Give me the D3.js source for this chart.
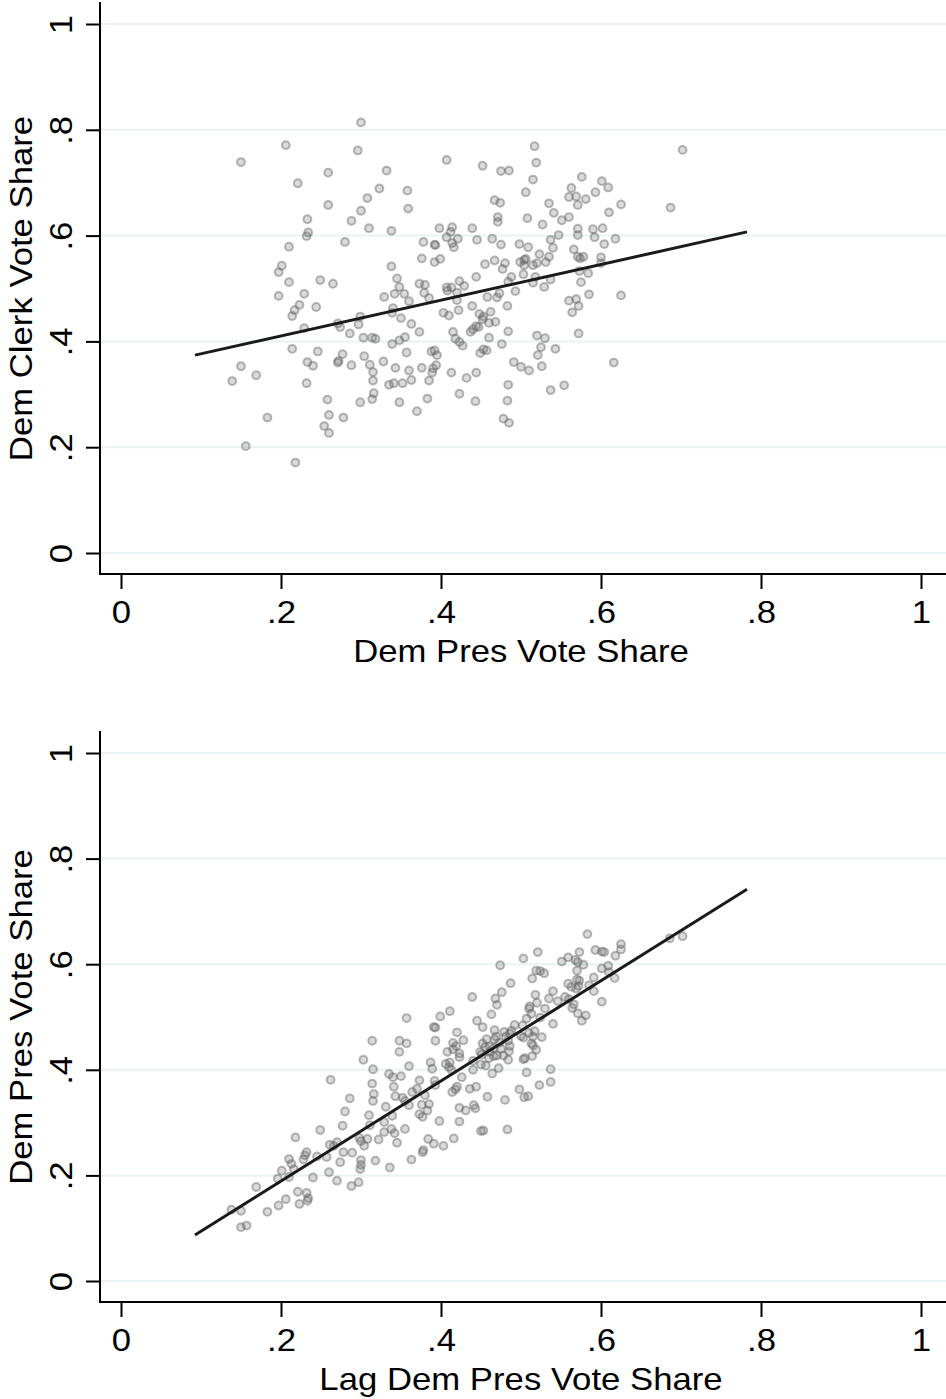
<!DOCTYPE html>
<html>
<head>
<meta charset="utf-8">
<script src="https://cdn.jsdelivr.net/npm/d3@7"></script>
<style>
  body { margin: 0; background: #fff; }
  svg { display: block; font-family: "Liberation Sans", Arial, Helvetica, sans-serif; }
</style>
</head>
<body>
<svg id="chart" width="946" height="1399"></svg>
<script>
// axis ticks (both panels, both axes)
const ticks = [0, 0.2, 0.4, 0.6, 0.8, 1];

// top panel: x = Dem Pres Vote Share, y = Dem Clerk Vote Share
const presVote = [
  .206,.150,.259,.221,.259,.233,.234,.232,.210,.201,.197,.210,.249,.197,.229,.223,.217,.214,.244,.229,
  .214,.246,.233,.240,.150,.169,.139,.232,.258,.260,.183,.254,.260,.156,.218,.300,.296,.332,.407,.452,
  .475,.485,.323,.358,.308,.300,.359,.288,.310,.338,.506,.467,.474,.471,.471,.508,.398,.414,.412,.439,
  .280,.407,.414,.421,.416,.378,.393,.392,.445,.464,.475,.498,.509,.376,.399,.392,.338,.455,.467,.480,
  .477,.504,.506,.504,.499,.265,.345,.348,.373,.380,.423,.429,.444,.488,.484,.503,.407,.413,.517,.519,
  .515,.702,.576,.601,.563,.609,.593,.560,.569,.581,.535,.571,.625,.687,.541,.610,.551,.560,.527,.571,
  .571,.590,.592,.602,.547,.537,.618,.540,.566,.604,.523,.535,.571,.574,.578,.600,.520,.531,.515,.600,
  .573,.584,.518,.537,.575,.529,.515,.329,.342,.354,.360,.379,.385,.408,.420,.420,.458,.470,.473,.493,
  .483,.340,.339,.299,.297,.271,.274,.403,.410,.422,.439,.448,.453,.452,.462,.460,.468,.350,.363,.373,
  .286,.303,.314,.318,.355,.348,.339,.415,.418,.423,.427,.437,.440,.447,.444,.460,.484,.476,.277,.272,
  .271,.288,.304,.311,.315,.328,.357,.343,.360,.376,.388,.392,.395,.394,.390,.389,.413,.432,.444,.449,
  .453,.457,.491,.500,.510,.315,.335,.341,.352,.363,.385,.316,.314,.299,.348,.383,.423,.443,.484,.483,
  .370,.278,.478,.485,.560,.569,.572,.564,.585,.625,.520,.530,.572,.525,.543,.616,.521,.526,.554,.537
];
const clerkVote = [
  .771,.739,.719,.699,.658,.631,.606,.599,.579,.543,.531,.512,.516,.486,.490,.469,.459,.448,.465,.425,
  .386,.381,.361,.354,.353,.336,.325,.321,.290,.261,.256,.240,.227,.202,.171,.814,.761,.723,.743,.732,
  .722,.723,.689,.685,.671,.647,.651,.628,.614,.609,.682,.667,.662,.635,.626,.633,.614,.616,.607,.614,
  .588,.597,.586,.594,.578,.588,.582,.583,.592,.594,.583,.584,.578,.557,.556,.550,.542,.546,.553,.548,
  .537,.554,.556,.544,.550,.509,.519,.503,.509,.507,.514,.505,.522,.522,.513,.527,.502,.502,.769,.738,
  .706,.762,.711,.703,.690,.691,.682,.673,.674,.669,.661,.658,.659,.653,.643,.644,.629,.635,.621,.613,
  .601,.612,.597,.614,.601,.592,.594,.577,.574,.584,.565,.560,.560,.557,.560,.559,.548,.550,.544,.548,
  .533,.529,.522,.517,.512,.503,.511,.484,.490,.490,.476,.492,.482,.496,.492,.478,.484,.483,.491,.495,
  .467,.463,.454,.447,.432,.434,.427,.454,.449,.459,.467,.452,.447,.442,.456,.435,.437,.444,.433,.418,
  .415,.407,.407,.405,.408,.402,.395,.418,.405,.399,.392,.418,.423,.427,.429,.407,.419,.395,.376,.363,
  .360,.355,.372,.356,.342,.362,.379,.350,.345,.350,.381,.383,.374,.355,.349,.341,.341,.331,.341,.378,
  .385,.383,.361,.352,.345,.326,.318,.321,.321,.327,.326,.302,.291,.285,.285,.292,.301,.287,.318,.288,
  .268,.256,.254,.246,.477,.480,.467,.455,.489,.487,.411,.406,.415,.389,.386,.360,.374,.353,.317,.308
];
// fitted line, read at its two ends
const fitTopX = [0.0925, 0.7825];
const fitTopY = [0.374, 0.607];

// bottom panel: x = Lag Dem Pres Vote Share, y = Dem Pres Vote Share
const lagPresVote = [
  .303,.315,.335,.262,.314,.316,.315,.286,.331,.280,.310,.329,.311,.277,.249,.329,.322,.308,.298,.300,
  .304,.218,.261,.270,.266,.278,.289,.232,.230,.228,.245,.257,.210,.213,.216,.201,.274,.300,.300,.299,
  .318,.336,.260,.240,.196,.210,.270,.297,.288,.169,.221,.232,.234,.233,.223,.206,.197,.183,.138,.150,
  .150,.157,.439,.468,.470,.411,.399,.357,.463,.445,.452,.391,.393,.420,.467,.469,.467,.314,.348,.357,
  .348,.393,.415,.419,.415,.428,.408,.423,.423,.452,.457,.455,.449,.461,.466,.460,.387,.406,.410,.413,
  .411,.440,.389,.440,.450,.456,.472,.464,.360,.340,.350,.373,.392,.393,.426,.341,.370,.364,.380,.343,
  .352,.355,.420,.418,.414,.436,.444,.458,.376,.385,.383,.360,.339,.373,.377,.423,.431,.441,.443,.398,
  .423,.338,.342,.355,.345,.384,.391,.403,.416,.450,.378,.583,.686,.702,.625,.625,.618,.593,.601,.604,
  .573,.521,.503,.559,.551,.568,.571,.578,.474,.609,.601,.610,.519,.524,.529,.570,.514,.487,.591,.617,
  .570,.573,.559,.563,.572,.569,.585,.540,.476,.591,.518,.535,.546,.555,.560,.601,.520,.511,.510,.530,
  .564,.566,.513,.571,.581,.576,.507,.524,.492,.502,.540,.479,.488,.486,.510,.517,.515,.500,.503,.526,
  .481,.484,.486,.473,.466,.475,.513,.515,.519,.485,.461,.470,.478,.505,.503,.514,.484,.451,.507,.537,
  .523,.537,.498,.504,.509,.480,.453,.483,.377,.363
];
const presVoteNow = [
  .419,.401,.392,.381,.374,.354,.341,.346,.330,.321,.314,.301,.295,.294,.286,.282,.268,.269,.271,.265,
  .256,.272,.258,.263,.256,.244,.243,.244,.238,.230,.236,.235,.231,.222,.212,.209,.225,.229,.220,.212,
  .228,.215,.206,.196,.194,.197,.190,.187,.180,.178,.169,.167,.157,.152,.146,.155,.143,.131,.135,.133,
  .102,.105,.538,.535,.523,.511,.501,.498,.505,.493,.481,.481,.480,.471,.475,.463,.458,.455,.455,.450,
  .434,.455,.451,.445,.439,.456,.434,.431,.424,.450,.458,.443,.434,.444,.426,.422,.414,.411,.405,.400,
  .414,.417,.402,.400,.410,.408,.403,.393,.407,.386,.388,.380,.379,.371,.386,.368,.364,.358,.352,.350,
  .347,.341,.368,.363,.358,.364,.368,.349,.334,.335,.323,.333,.313,.316,.311,.328,.323,.333,.327,.303,
  .302,.288,.280,.288,.262,.269,.260,.256,.270,.284,.248,.657,.649,.653,.638,.628,.616,.627,.624,.623,
  .623,.623,.611,.613,.605,.608,.604,.599,.598,.597,.592,.585,.588,.587,.583,.588,.573,.564,.575,.574,
  .571,.569,.563,.557,.559,.554,.560,.549,.547,.549,.542,.535,.530,.538,.534,.529,.527,.520,.516,.516,
  .517,.524,.506,.507,.503,.493,.497,.499,.485,.484,.487,.472,.474,.469,.470,.473,.463,.464,.461,.462,
  .463,.455,.445,.451,.441,.440,.450,.446,.438,.435,.434,.427,.427,.422,.420,.426,.419,.429,.395,.401,
  .371,.377,.363,.348,.350,.343,.285,.287,.244,.230
];
const fitBotX = [0.0925, 0.7825];
const fitBotY = [0.087, 0.742];

const svg = d3.select("#chart");
const x = d3.scaleLinear().domain([0, 1]).range([121, 921]);
const fmt = d => d === 0 ? "0" : d === 1 ? "1" : d3.format(".1f")(d).replace(/^0/, "");
const stretch = "scale(1.12,1)";

function panel(xs, ys, fx, fy, zeroY, oneY, xTitle, yTitle) {
  const y = d3.scaleLinear().domain([0, 1]).range([zeroY, oneY]);
  const axisY = zeroY + 21;
  const g = svg.append("g");

  // grid
  g.selectAll(".grid")
    .data(ticks)
    .enter()
    .append("line")
    .attr("x1", 101).attr("x2", 946)
    .attr("y1", d => y(d)).attr("y2", d => y(d))
    .style("stroke", "#eaf2f3")
    .style("stroke-width", 2);

  // points
  g.selectAll(".pt")
    .data(xs.map((d, i) => [d, ys[i]]))
    .enter()
    .append("circle")
    .attr("cx", d => x(d[0]))
    .attr("cy", d => y(d[1]))
    .attr("r", 3.9)
    .style("fill", "rgb(100,100,100)")
    .style("fill-opacity", 0.24)
    .style("stroke", "rgb(100,100,100)")
    .style("stroke-opacity", 0.45)
    .style("stroke-width", 2);

  // fitted line
  g.append("path")
    .datum(fx.map((d, i) => [d, fy[i]]))
    .attr("d", d3.line().x(d => x(d[0])).y(d => y(d[1])))
    .style("fill", "none")
    .style("stroke", "#1a1a1a")
    .style("stroke-width", 3);

  // axis lines
  g.append("line")
    .attr("x1", 100).attr("x2", 100)
    .attr("y1", oneY - 22).attr("y2", axisY + 1)
    .style("stroke", "#000").style("stroke-width", 2);
  g.append("line")
    .attr("x1", 99).attr("x2", 946)
    .attr("y1", axisY).attr("y2", axisY)
    .style("stroke", "#000").style("stroke-width", 2);

  const ax = g.append("g")
    .attr("transform", `translate(0,${axisY})`)
    .call(d3.axisBottom(x).tickValues(ticks).tickFormat(fmt).tickSize(15));
  ax.select(".domain").remove();
  ax.selectAll("line").style("stroke", "#000").style("stroke-width", 2);
  ax.selectAll("text")
    .attr("y", 49).attr("dy", 0)
    .attr("transform", stretch)
    .style("font-size", "31px").style("fill", "#000")
    .style("font-family", "'Liberation Sans', Arial, Helvetica, sans-serif");

  const ay = g.append("g")
    .attr("transform", "translate(100,0)")
    .call(d3.axisLeft(y).tickValues(ticks).tickFormat(fmt).tickSize(14));
  ay.select(".domain").remove();
  ay.selectAll("line").style("stroke", "#000").style("stroke-width", 2);
  ay.selectAll("text")
    .attr("x", 0).attr("y", -28).attr("dy", 0)
    .attr("text-anchor", "middle")
    .attr("transform", "rotate(-90) " + stretch)
    .style("font-size", "31px").style("fill", "#000")
    .style("font-family", "'Liberation Sans', Arial, Helvetica, sans-serif");

  // titles
  g.append("text")
    .attr("transform", `translate(${x(0.5)},${axisY + 88}) ${stretch}`)
    .attr("text-anchor", "middle")
    .style("font-size", "31px")
    .text(xTitle);
  g.append("text")
    .attr("transform", `translate(32,${y(0.5)}) rotate(-90) ${stretch}`)
    .attr("text-anchor", "middle")
    .style("font-size", "31px")
    .text(yTitle);
}

panel(presVote, clerkVote, fitTopX, fitTopY, 553, 24, "Dem Pres Vote Share", "Dem Clerk Vote Share");
panel(lagPresVote, presVoteNow, fitBotX, fitBotY, 1281, 753, "Lag Dem Pres Vote Share", "Dem Pres Vote Share");
</script>
</body>
</html>
